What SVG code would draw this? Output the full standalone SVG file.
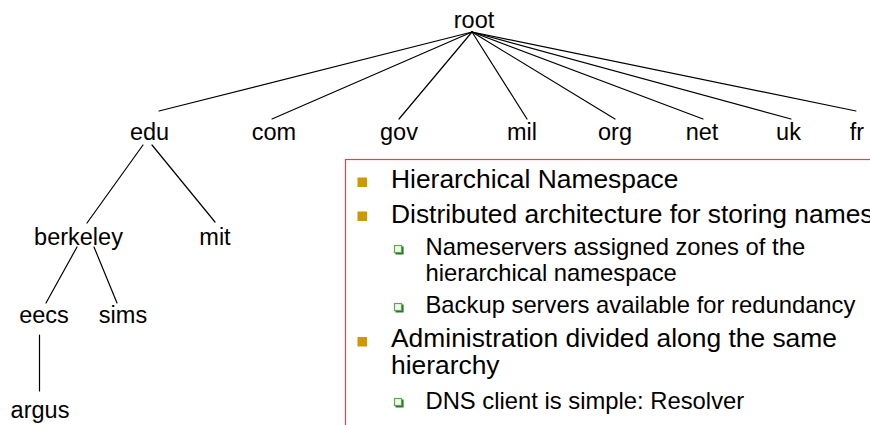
<svg xmlns="http://www.w3.org/2000/svg" xmlns:xlink="http://www.w3.org/1999/xlink" width="870" height="425" viewBox="0 0 870 425">
  <style>
    .lbl { font-family: "Liberation Sans", Arial, sans-serif; font-size: 23.5px; fill: #000; text-anchor: middle; }
    .edge { stroke: #000; stroke-width: 1.2; fill: none; stroke-linecap: round; }
    .b1 { font-family: "Liberation Sans", Arial, sans-serif; font-size: 26.4px; fill: #000; }
    .b2 { font-family: "Liberation Sans", Arial, sans-serif; font-size: 23.8px; fill: #000; }
    .sq { fill: #cc9900; }
  </style>
  <defs>
    <!-- hollow green box bullet with a drop shadow -->
    <g id="subBullet">
      <rect x="0.5" y="0.5" width="7" height="7" fill="#f2f8ee" stroke="#5aac4a" stroke-width="1.2"/>
      <polyline points="1.5,8.8 8.8,8.8 8.8,1.5" fill="none" stroke="#2f7330" stroke-width="1.6"/>
    </g>
  </defs>

  <rect width="870" height="425" fill="#fff"/>

  <!-- tree connectors -->
  <g id="connectors">
    <line class="edge" x1="472" y1="32" x2="159" y2="111"/>
    <line class="edge" x1="472" y1="32" x2="272" y2="119"/>
    <line class="edge" x1="472" y1="32" x2="399" y2="119"/>
    <line class="edge" x1="472" y1="32" x2="527" y2="119"/>
    <line class="edge" x1="472" y1="32" x2="615" y2="119"/>
    <line class="edge" x1="472" y1="32" x2="703" y2="119"/>
    <line class="edge" x1="472" y1="32" x2="791" y2="119"/>
    <line class="edge" x1="472" y1="32" x2="856" y2="111"/>
    <line class="edge" x1="143" y1="145" x2="87" y2="223"/>
    <line class="edge" x1="152" y1="145" x2="215" y2="222"/>
    <line class="edge" x1="77" y1="247" x2="46" y2="303"/>
    <line class="edge" x1="94" y1="247" x2="117" y2="303"/>
    <line class="edge" x1="39.5" y1="335" x2="39.5" y2="391"/>
  </g>

  <!-- tree nodes -->
  <g id="node-root"><text class="lbl" x="474" y="28">root</text></g>
  <g id="node-edu"><text class="lbl" x="149.5" y="140">edu</text></g>
  <g id="node-com"><text class="lbl" x="274" y="140">com</text></g>
  <g id="node-gov"><text class="lbl" x="399" y="140">gov</text></g>
  <g id="node-mil"><text class="lbl" x="522" y="140">mil</text></g>
  <g id="node-org"><text class="lbl" x="615" y="140">org</text></g>
  <g id="node-net"><text class="lbl" x="702" y="140">net</text></g>
  <g id="node-uk"><text class="lbl" x="788.5" y="140">uk</text></g>
  <g id="node-fr"><text class="lbl" x="857" y="140">fr</text></g>
  <g id="node-berkeley"><text class="lbl" x="78.5" y="245">berkeley</text></g>
  <g id="node-mit"><text class="lbl" x="215" y="245">mit</text></g>
  <g id="node-eecs"><text class="lbl" x="44" y="323">eecs</text></g>
  <g id="node-sims"><text class="lbl" x="123" y="323">sims</text></g>
  <g id="node-argus"><text class="lbl" x="40" y="418">argus</text></g>

  <!-- bullet list panel -->
  <g id="notes">
    <rect x="345.5" y="159.5" width="560" height="300" fill="#fff" stroke="#ee4040" stroke-width="1.2"/>

    <rect class="sq" x="357.5" y="177.5" width="9.5" height="9.5"/>
    <text class="b1" x="391" y="188">Hierarchical Namespace</text>

    <rect class="sq" x="357.5" y="211.5" width="9.5" height="9.5"/>
    <text class="b1" x="391" y="222.7">Distributed architecture for storing names</text>

    <use xlink:href="#subBullet" x="394" y="245"/>
    <text class="b2" x="425.5" y="255.3">Nameservers assigned zones of the</text>
    <text class="b2" x="425.5" y="281">hierarchical namespace</text>

    <use xlink:href="#subBullet" x="394" y="303"/>
    <text class="b2" x="425.5" y="312.7">Backup servers available for redundancy</text>

    <rect class="sq" x="357.5" y="337" width="9.5" height="9.5"/>
    <text class="b1" x="391" y="347.3">Administration divided along the same</text>
    <text class="b1" x="391" y="374">hierarchy</text>

    <use xlink:href="#subBullet" x="394" y="398"/>
    <text class="b2" x="425.5" y="408.7">DNS client is simple: Resolver</text>
  </g>
</svg>
